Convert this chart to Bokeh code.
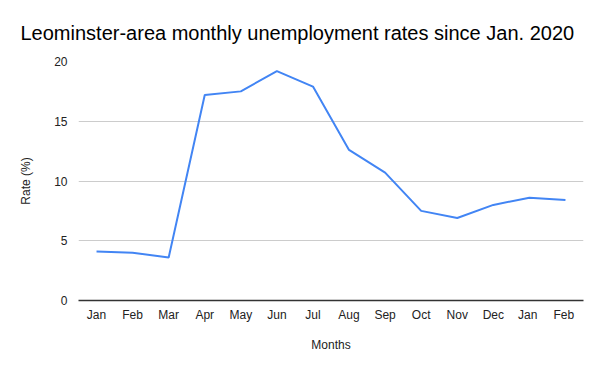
from bokeh.plotting import figure
from bokeh.models import Range1d, FactorRange
from bokeh.embed import file_html
from bokeh.resources import INLINE

months = ["Jan", "Feb", "Mar", "Apr", "May", "Jun", "Jul", "Aug", "Sep", "Oct", "Nov", "Dec", "Jan ", "Feb "]
tick_labels = ["Jan", "Feb", "Mar", "Apr", "May", "Jun", "Jul", "Aug", "Sep", "Oct", "Nov", "Dec", "Jan", "Feb"]
rates = [4.1, 4.0, 3.6, 17.2, 17.5, 19.2, 17.9, 12.6, 10.7, 7.5, 6.9, 8.0, 8.6, 8.4]
y_ticks = [0, 5, 10, 15, 20]
title_text = "Leominster-area monthly unemployment rates since Jan. 2020"

FONT = "Liberation Sans"

p = figure(
    width=600, height=371,
    x_range=FactorRange(factors=months, range_padding=0),
    y_range=Range1d(0, 20),
    output_backend="svg", toolbar_location=None,
    title=title_text,
    min_border_left=78, min_border_right=17, min_border_top=61, min_border_bottom=71,
)
p.x_range.factor_padding = 0
p.x_range.range_padding = 0

p.line(x=months, y=rates, line_color="#4285F4", line_width=2)

p.title.text_font = FONT
p.title.text_font_size = "20px"
p.title.text_font_style = "normal"
p.title.text_color = "#000000"
p.title.align = "left"
p.title.offset = -58
p.title.standoff = 36

p.outline_line_color = None
p.background_fill_color = "white"
p.border_fill_color = "white"

# x axis
xa = p.xaxis[0]
xa.major_label_overrides = {m: t for m, t in zip(months, tick_labels)}
xa.axis_label = "Months"
xa.axis_label_text_font = FONT
xa.axis_label_text_font_size = "12px"
xa.axis_label_text_font_style = "normal"
xa.axis_label_text_color = "#222222"
xa.axis_label_standoff = 13
xa.major_label_text_font = FONT
xa.major_label_text_font_size = "12px"
xa.major_label_text_color = "#222222"
xa.major_label_standoff = 1
xa.major_tick_line_color = None
xa.minor_tick_line_color = None
xa.axis_line_color = "#333333"
xa.axis_line_width = 1.5

# y axis
ya = p.yaxis[0]
ya.ticker = y_ticks
ya.axis_label = "Rate (%)"
ya.axis_label_text_font = FONT
ya.axis_label_text_font_size = "12px"
ya.axis_label_text_font_style = "normal"
ya.axis_label_text_color = "#222222"
ya.axis_label_standoff = 18
ya.major_label_text_font = FONT
ya.major_label_text_font_size = "12px"
ya.major_label_text_color = "#222222"
ya.major_label_standoff = 5
ya.major_tick_line_color = None
ya.minor_tick_line_color = None
ya.axis_line_color = None

p.xgrid.grid_line_color = None
p.ygrid.grid_line_color = "#cccccc"
p.ygrid.grid_line_width = 1

open("out.html", "w").write(file_html(p, INLINE))
